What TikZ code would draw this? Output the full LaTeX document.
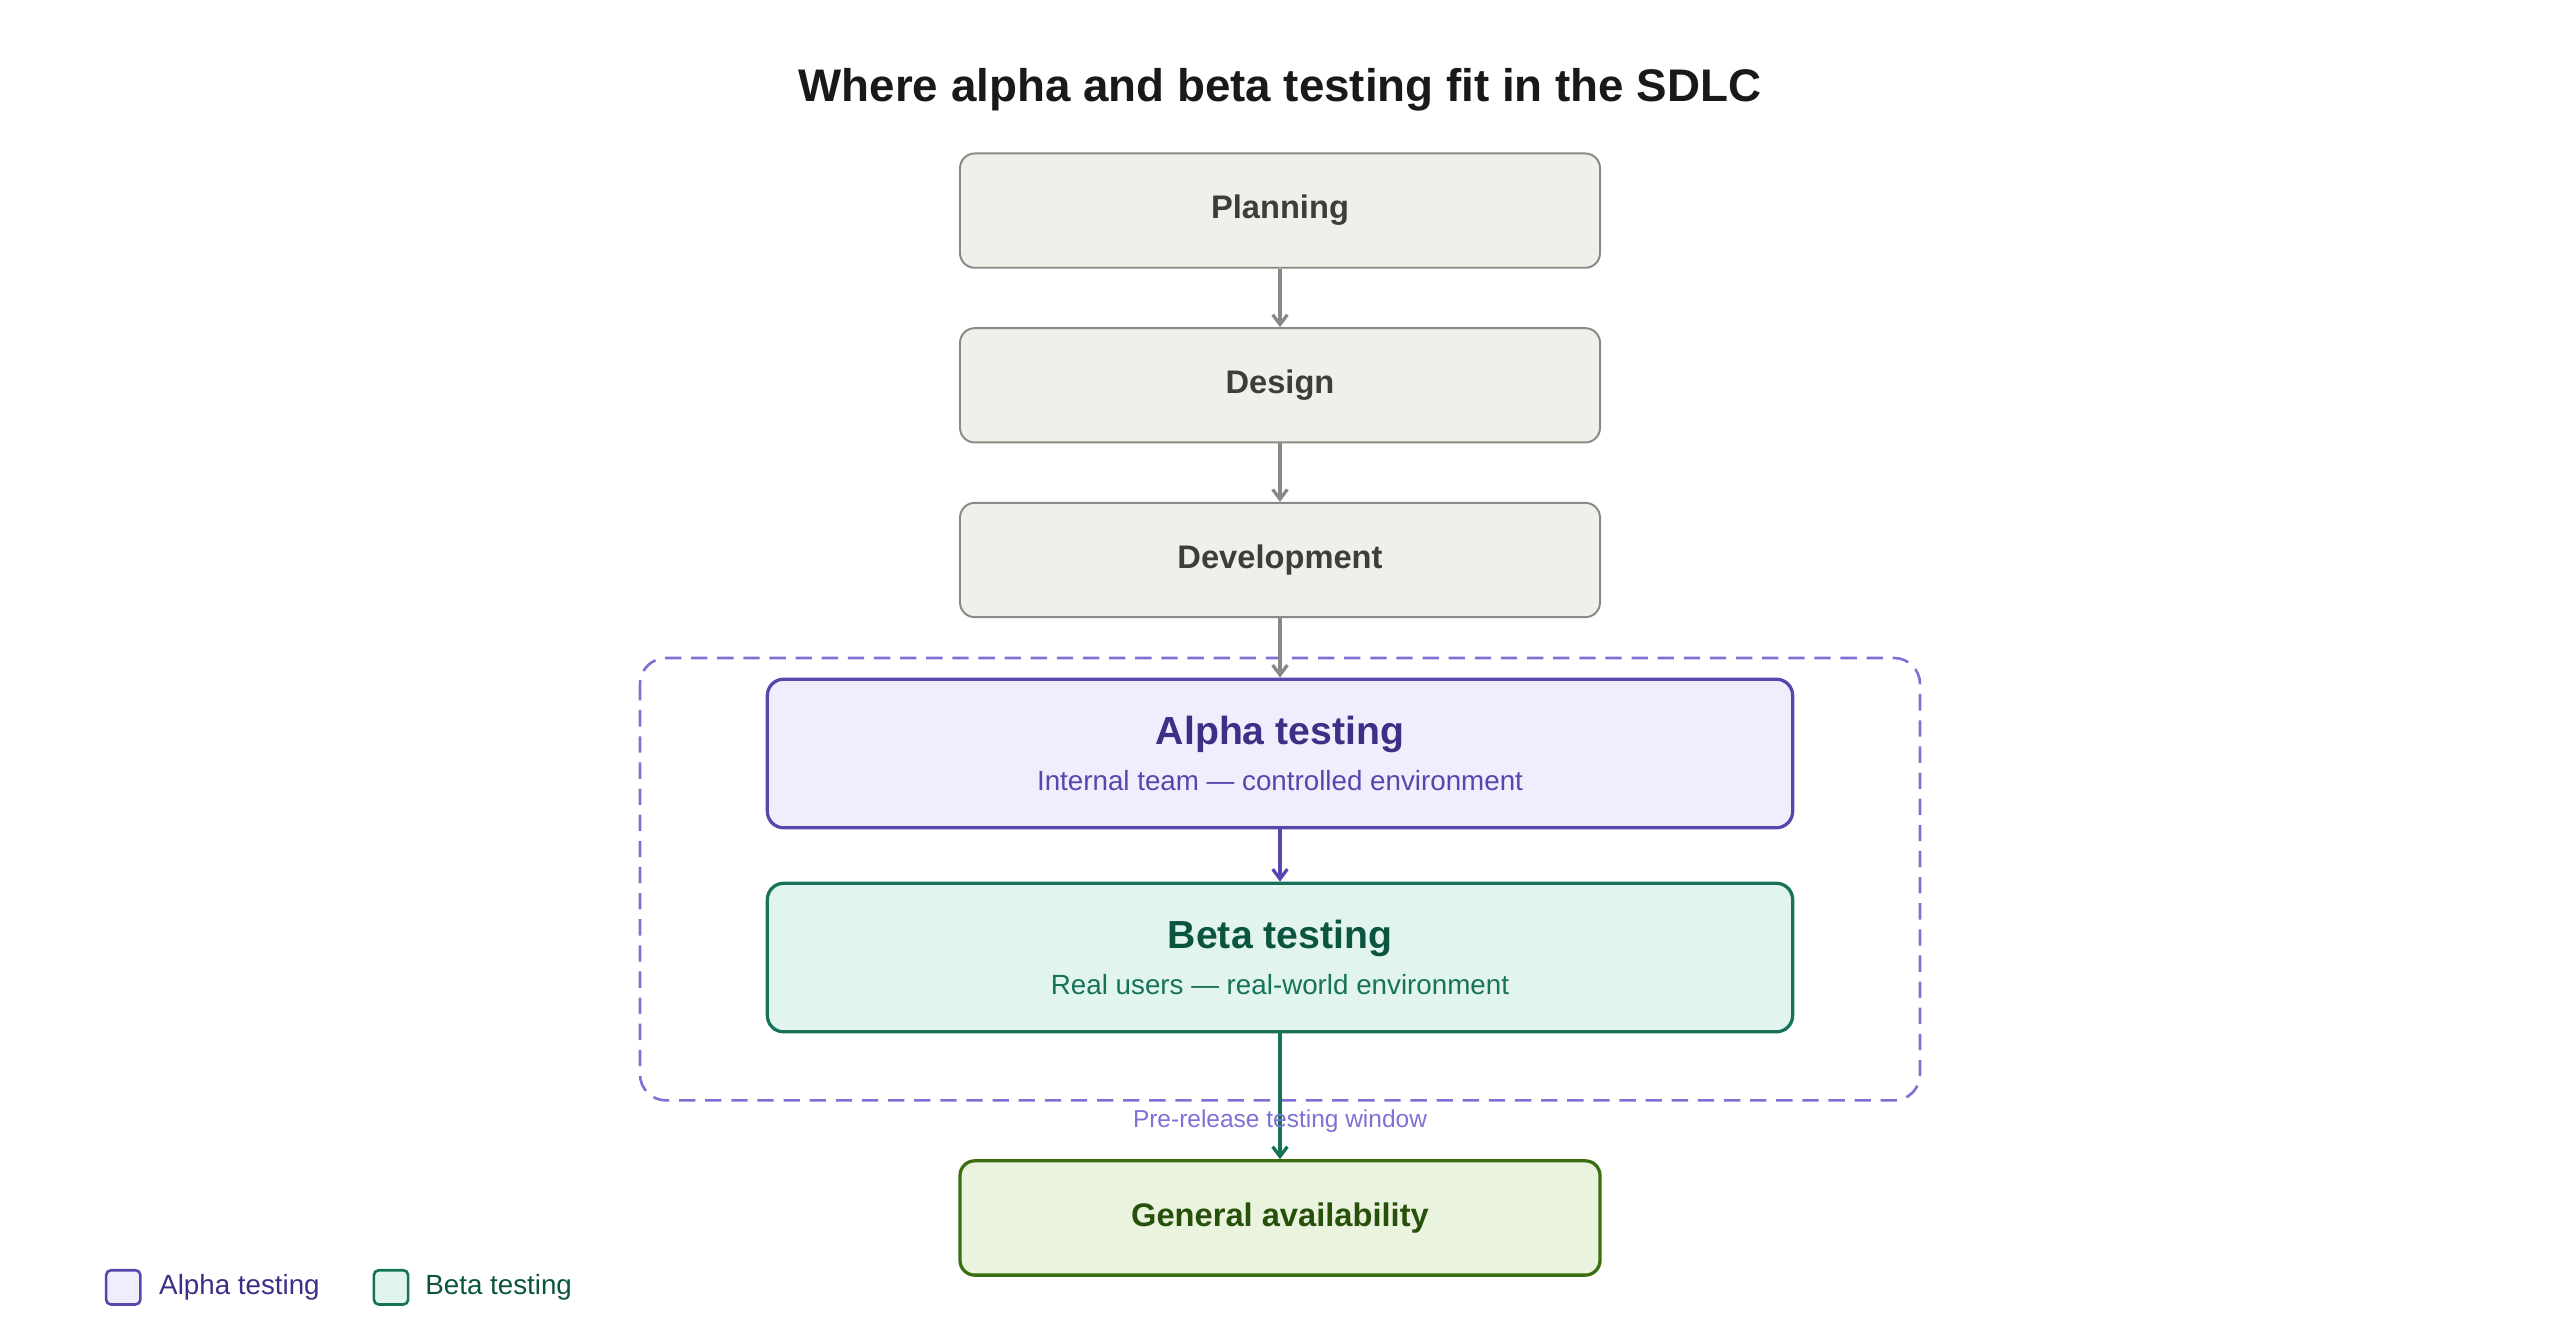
\documentclass[tikz,border=0pt]{standalone}
\usepackage{fontspec}
\setmainfont{Liberation Sans}
\usetikzlibrary{arrows.meta}
\definecolor{gfill}{HTML}{F0EFEA}\definecolor{gdraw}{HTML}{8A8A84}\definecolor{gtext}{HTML}{3D3D3A}
\definecolor{afill}{HTML}{EEEEFC}\definecolor{adraw}{HTML}{5846AE}\definecolor{atext}{HTML}{3C2F86}
\definecolor{bfill}{HTML}{E1F5EE}\definecolor{bdraw}{HTML}{17725A}\definecolor{btext}{HTML}{0B5440}
\definecolor{cfill}{HTML}{EAF3DE}\definecolor{cdraw}{HTML}{3B6D11}\definecolor{ctext}{HTML}{27500A}
\definecolor{winc}{HTML}{7F70D6}
\begin{document}
\begin{tikzpicture}[x=1pt,y=1pt,
 phase/.style={rounded corners=9pt,minimum width=392pt,minimum height=70pt,font=\fontsize{20}{24}\selectfont\bfseries,line width=1.2pt},
 gray/.style={phase,fill=gfill,draw=gdraw,text=gtext},
 test/.style={rounded corners=10pt,minimum width=628pt,minimum height=91pt,line width=2pt,align=center},
 arr/.style={-{Straight Barb[length=6pt,width=9pt]},line width=2pt}]
\useasboundingbox (0,0) rectangle (1568,-822);
\node[font=\fontsize{28}{32}\selectfont\bfseries,text=black!90] (title) at (784,-55) {Where alpha and beta testing fit in the SDLC};
\node[gray] (plan) at (784,-129) {Planning};
\node[gray] (des) at (784,-236) {Design};
\node[gray] (dev) at (784,-343) {Development};
\draw[winc,dash pattern=on 10pt off 6pt,line width=1.6pt,rounded corners=16pt] (392,-403) rectangle (1176,-674);
\node[test,fill=afill,draw=adraw] (alpha) at (784,-461.5) {{\fontsize{24}{28}\selectfont\bfseries\color{atext}Alpha testing}\\[10pt]{\fontsize{17}{20}\selectfont\color{adraw}Internal team — controlled environment}};
\node[test,fill=bfill,draw=bdraw] (beta) at (784,-586.5) {{\fontsize{24}{28}\selectfont\bfseries\color{btext}Beta testing}\\[10pt]{\fontsize{17}{20}\selectfont\color{bdraw}Real users — real-world environment}};
\node[phase,fill=cfill,draw=cdraw,text=ctext,line width=2pt] (ga) at (784,-746) {General availability};
\draw[arr,gdraw] (plan) -- (des);
\draw[arr,gdraw] (des) -- (dev);
\draw[arr,gdraw] (dev) -- (alpha);
\draw[arr,adraw] (alpha) -- (beta);
\draw[arr,bdraw] (beta) -- (ga);
\node[font=\fontsize{15}{18}\selectfont,text=winc] (win) at (784,-687) {Pre-release testing window};
\node[draw=adraw,fill=afill,line width=1.6pt,rounded corners=3pt,minimum size=21pt,inner sep=0] (la) at (75.5,-788.5) {};
\node[anchor=west,font=\fontsize{17}{20}\selectfont,text=atext] (lat) at (94,-788.5) {Alpha testing};
\node[draw=bdraw,fill=bfill,line width=1.6pt,rounded corners=3pt,minimum size=21pt,inner sep=0] (lb) at (239.5,-788.5) {};
\node[anchor=west,font=\fontsize{17}{20}\selectfont,text=btext] (lbt) at (257,-788.5) {Beta testing};
\end{tikzpicture}
\end{document}
